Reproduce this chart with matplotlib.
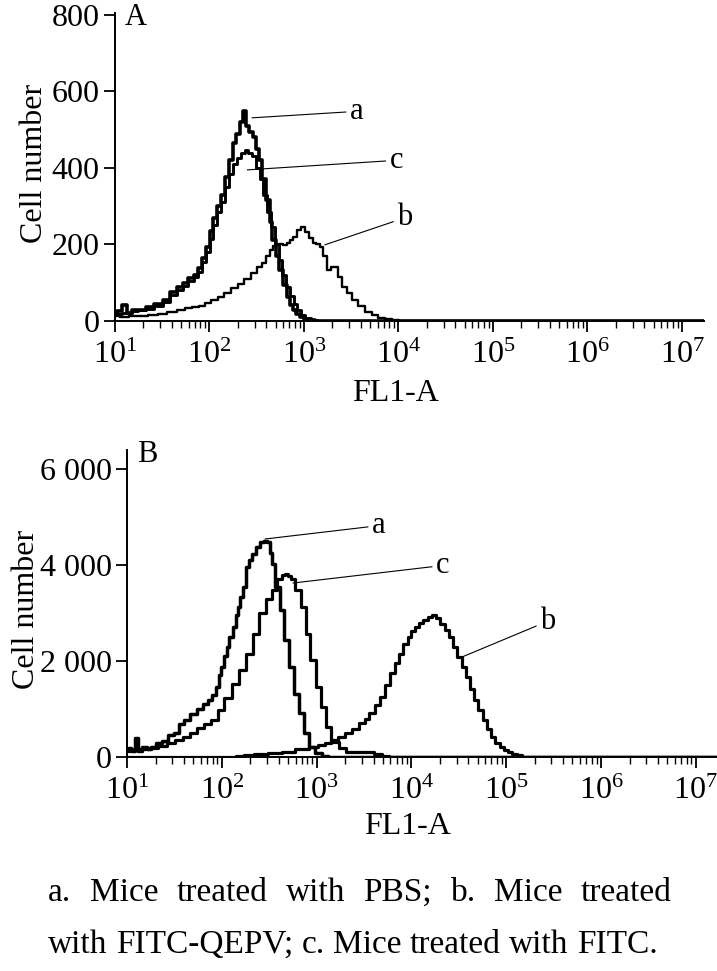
import numpy as np
import matplotlib.pyplot as plt
from matplotlib.ticker import FixedLocator, LogLocator, NullFormatter

plt.rcParams['font.family'] = ['Liberation Serif', 'DejaVu Serif']
plt.rcParams['mathtext.fontset'] = 'custom'
plt.rcParams['mathtext.rm'] = 'Liberation Serif'
plt.rcParams['mathtext.it'] = 'Liberation Serif:italic'

# Panel A: FL1-A channel (log10) and cell counts
a_log_A = [1.00, 1.05, 1.10, 1.15, 1.20, 1.28, 1.37, 1.45, 1.55, 1.62, 1.68, 1.75,
           1.80, 1.86, 1.90, 1.95, 1.98, 2.02, 2.06, 2.10, 2.14, 2.19, 2.23, 2.26,
           2.30, 2.34, 2.37, 2.40, 2.44, 2.47, 2.51, 2.54, 2.58, 2.62, 2.65, 2.68,
           2.72, 2.76, 2.80, 2.83, 2.87, 2.90, 2.94, 2.97, 3.02, 3.07, 3.15, 7.23]
a_cnt_A = [20, 25, 42, 22, 28, 30, 37, 45, 55, 75, 90, 100,
           112, 120, 138, 165, 194, 235, 270, 300, 330, 377, 420, 464,
           490, 520, 550, 510, 495, 482, 450, 421, 370, 316, 260, 212,
           170, 133, 95, 63, 42, 29, 18, 10, 5, 2, 0, 0]

c_log_A = [1.00, 1.05, 1.10, 1.15, 1.20, 1.28, 1.37, 1.45, 1.55, 1.62, 1.68, 1.75,
           1.80, 1.86, 1.90, 1.95, 1.98, 2.02, 2.06, 2.10, 2.14, 2.19, 2.23, 2.27,
           2.31, 2.35, 2.39, 2.43, 2.47, 2.51, 2.55, 2.59, 2.63, 2.67, 2.71, 2.75,
           2.79, 2.83, 2.87, 2.91, 2.95, 2.99, 3.04, 3.10, 3.18, 7.23]
c_cnt_A = [15, 18, 22, 20, 25, 28, 32, 40, 50, 68, 82, 92,
           105, 115, 128, 155, 180, 215, 250, 285, 310, 350, 385, 410,
           425, 440, 447, 440, 430, 400, 370, 330, 285, 245, 200, 160,
           120, 90, 65, 45, 28, 15, 7, 2, 0, 0]

b_log_A = [1.00, 1.10, 1.20, 1.30, 1.40, 1.50, 1.60, 1.70, 1.77, 1.85, 1.92, 1.98,
           2.05, 2.12, 2.19, 2.26, 2.33, 2.40, 2.47, 2.53, 2.58, 2.62, 2.65, 2.69,
           2.72, 2.76, 2.80, 2.83, 2.87, 2.90, 2.95, 2.99, 3.03, 3.07, 3.11, 3.15,
           3.18, 3.22, 3.27, 3.31, 3.34, 3.38, 3.43, 3.48, 3.54, 3.61, 3.68, 3.75,
           3.82, 3.90, 3.96, 4.05, 7.23]
b_cnt_A = [12, 10, 14, 12, 16, 18, 24, 28, 33, 36, 40, 46,
           55, 62, 72, 85, 98, 110, 125, 140, 151, 170, 185, 195,
           198, 200, 198, 203, 212, 220, 238, 246, 232, 216, 205, 200,
           194, 170, 133, 140, 141, 115, 90, 72, 55, 38, 24, 15,
           8, 4, 2, 0, 0]

# Panel B
a_log_B = [1.00, 1.03, 1.06, 1.10, 1.13, 1.18, 1.23, 1.28, 1.33, 1.40, 1.46, 1.52,
           1.58, 1.63, 1.70, 1.78, 1.83, 1.88, 1.92, 1.95, 1.98, 2.01, 2.04, 2.06,
           2.10, 2.13, 2.16, 2.18, 2.21, 2.24, 2.27, 2.30, 2.33, 2.38, 2.43, 2.46,
           2.49, 2.52, 2.54, 2.59, 2.63, 2.68, 2.73, 2.79, 2.84, 2.89, 2.95, 3.02,
           3.09, 3.15, 7.22]
a_cnt_B = [150, 180, 120, 390, 130, 200, 170, 215, 300, 340, 457, 500,
           680, 770, 900, 1010, 1100, 1185, 1300, 1460, 1700, 1880, 2100, 2290,
           2500, 2710, 2950, 3125, 3330, 3540, 3960, 4100, 4230, 4370, 4480, 4500,
           4480, 4250, 4030, 3540, 3055, 2430, 1880, 1320, 910, 490, 215, 76,
           20, 0, 0]

c_log_B = [1.00, 1.05, 1.10, 1.18, 1.28, 1.37, 1.46, 1.55, 1.63, 1.70, 1.78, 1.85,
           1.92, 1.99, 2.06, 2.15, 2.22, 2.29, 2.36, 2.43, 2.50, 2.56, 2.61, 2.65,
           2.68, 2.71, 2.75, 2.80, 2.86, 2.91, 2.96, 3.02, 3.07, 3.12, 3.19, 3.27,
           3.34, 3.45, 3.55, 3.65, 3.72, 3.80, 7.22]
c_cnt_B = [120, 145, 160, 175, 180, 230, 285, 350, 420, 500, 600, 680,
           770, 980, 1220, 1530, 1810, 2155, 2570, 2990, 3300, 3470, 3715, 3800,
           3820, 3780, 3715, 3470, 3125, 2570, 2015, 1460, 1045, 630, 320, 180,
           110, 100, 95, 60, 30, 0, 0]

b_log_B = [1.00, 2.10, 2.20, 2.27, 2.40, 2.56, 2.70, 2.84, 2.98, 3.05, 3.12, 3.19,
           3.26, 3.34, 3.41, 3.48, 3.53, 3.58, 3.64, 3.69, 3.75, 3.80, 3.85, 3.89,
           3.94, 3.98, 4.02, 4.06, 4.10, 4.15, 4.20, 4.24, 4.28, 4.33, 4.37, 4.42,
           4.46, 4.51, 4.55, 4.60, 4.64, 4.68, 4.73, 4.77, 4.82, 4.86, 4.91, 4.95,
           5.00, 5.04, 5.09, 5.14, 5.20, 5.28, 7.22]
b_cnt_B = [0, 0, 25, 40, 55, 76, 110, 160, 215, 250, 300, 353,
           420, 490, 590, 700, 800, 908, 1080, 1254, 1500, 1740, 1950, 2155,
           2350, 2500, 2620, 2710, 2790, 2850, 2920, 2960, 2900, 2780, 2650, 2500,
           2300, 2085, 1880, 1670, 1420, 1185, 970, 770, 580, 420, 300, 215,
           150, 97, 60, 40, 10, 0, 0]

yticks_A = [0, 200, 400, 600, 800]
ylabels_A = ['0', '200', '400', '600', '800']
yticks_B = [0, 2000, 4000, 6000]
ylabels_B = ['0', '2 000', '4 000', '6 000']
decades = [1, 2, 3, 4, 5, 6, 7]

caption = ['a. Mice treated with PBS; b. Mice treated',
           'with FITC-QEPV; c. Mice treated with FITC.']

fig = plt.figure(figsize=(7.17, 9.71), dpi=100)
axA = fig.add_axes([115 / 717, 1 - 321 / 971, 589 / 717, 308 / 971])
axB = fig.add_axes([127 / 717, 1 - 757 / 971, 590 / 717, 307 / 971])


def setup(ax, xmax_log, ymax, yticks, ylabels, letter):
    ax.set_xscale('log')
    ax.set_xlim(10, 10 ** xmax_log)
    ax.set_ylim(0, ymax)
    ax.spines['top'].set_visible(False)
    ax.spines['right'].set_visible(False)
    for s in ['left', 'bottom']:
        ax.spines[s].set_linewidth(1.4)
    ax.xaxis.set_major_locator(FixedLocator([10.0 ** k for k in decades]))
    ax.set_xticklabels([r'$10^{%d}$' % k for k in decades])
    ax.xaxis.set_minor_locator(LogLocator(base=10, subs=range(2, 10), numticks=20))
    ax.xaxis.set_minor_formatter(NullFormatter())
    ax.set_yticks(yticks)
    ax.set_yticklabels(ylabels)
    ax.tick_params(axis='x', which='major', direction='out', length=8, width=1.3,
                   labelsize=23, pad=6)
    ax.tick_params(axis='x', which='minor', direction='out', length=5, width=1.0)
    ax.tick_params(axis='y', which='major', direction='out', length=8, width=1.3,
                   labelsize=23, pad=3)
    ax.set_xlabel('FL1-A', fontsize=23, va='center')
    ax.set_ylabel('Cell number', fontsize=23)
    ax.text(0.017, 0.985, letter, transform=ax.transAxes, fontsize=22,
            ha='left', va='center')


setup(axA, 7.233, 805, yticks_A, ylabels_A, 'A')
setup(axB, 7.224, 6395, yticks_B, ylabels_B, 'B')

axA.plot(10 ** np.array(b_log_A), b_cnt_A, color='black', lw=1.7, drawstyle='steps-mid')
axA.plot(10 ** np.array(c_log_A), c_cnt_A, color='black', lw=2.1, drawstyle='steps-mid')
axA.plot(10 ** np.array(a_log_A), a_cnt_A, color='black', lw=2.6, drawstyle='steps-mid')

axB.plot(10 ** np.array(b_log_B), b_cnt_B, color='black', lw=2.3, drawstyle='steps-mid')
axB.plot(10 ** np.array(c_log_B), c_cnt_B, color='black', lw=2.3, drawstyle='steps-mid')
axB.plot(10 ** np.array(a_log_B), a_cnt_B, color='black', lw=2.5, drawstyle='steps-mid')

leader = dict(arrowstyle='-', lw=0.8, color='black', shrinkA=1, shrinkB=0)
# labels a, b, c with leader lines
axA.annotate('a', xy=(10 ** 2.45, 531), xytext=(10 ** 3.56, 548), fontsize=22,
             ha='center', va='center', arrowprops=leader)
axA.annotate('c', xy=(10 ** 2.40, 395), xytext=(10 ** 3.98, 420), fontsize=22,
             ha='center', va='center', arrowprops=leader)
axA.annotate('b', xy=(10 ** 3.22, 199), xytext=(10 ** 4.07, 270), fontsize=22,
             ha='center', va='center', arrowprops=leader)

axB.annotate('a', xy=(10 ** 2.456, 4541), xytext=(10 ** 3.658, 4820), fontsize=22,
             ha='center', va='center', arrowprops=leader)
axB.annotate('c', xy=(10 ** 2.751, 3624), xytext=(10 ** 4.333, 3990), fontsize=22,
             ha='center', va='center', arrowprops=leader)
axB.annotate('b', xy=(10 ** 4.534, 2083), xytext=(10 ** 5.441, 2830), fontsize=22,
             ha='center', va='center', arrowprops=leader)

axA.yaxis.set_label_coords(-0.112, 0.51)
axB.yaxis.set_label_coords(-0.145, 0.48)
axA.xaxis.set_label_coords(0.477, -0.235)
axB.xaxis.set_label_coords(0.475, -0.228)

# caption, first line justified to the full width like the printed figure
renderer = fig.canvas.get_renderer()
for line, y_px, x0, x1 in [(caption[0], 893, 48, 672), (caption[1], 945, 48, None)]:
    words = line.split(' ')
    texts = [fig.text(0, 1 - y_px / 971, w, fontsize=24, va='center', ha='left')
             for w in words]
    widths = [t.get_window_extent(renderer).width for t in texts]
    space = texts[0].get_fontsize() * 100 / 72 * 0.25
    if x1 is None:
        gap = space
    else:
        gap = (x1 - x0 - sum(widths)) / (len(words) - 1)
    x = x0
    for t, w in zip(texts, widths):
        t.set_x(x / 717)
        x += w + gap

fig.savefig('out.png', dpi=100)
